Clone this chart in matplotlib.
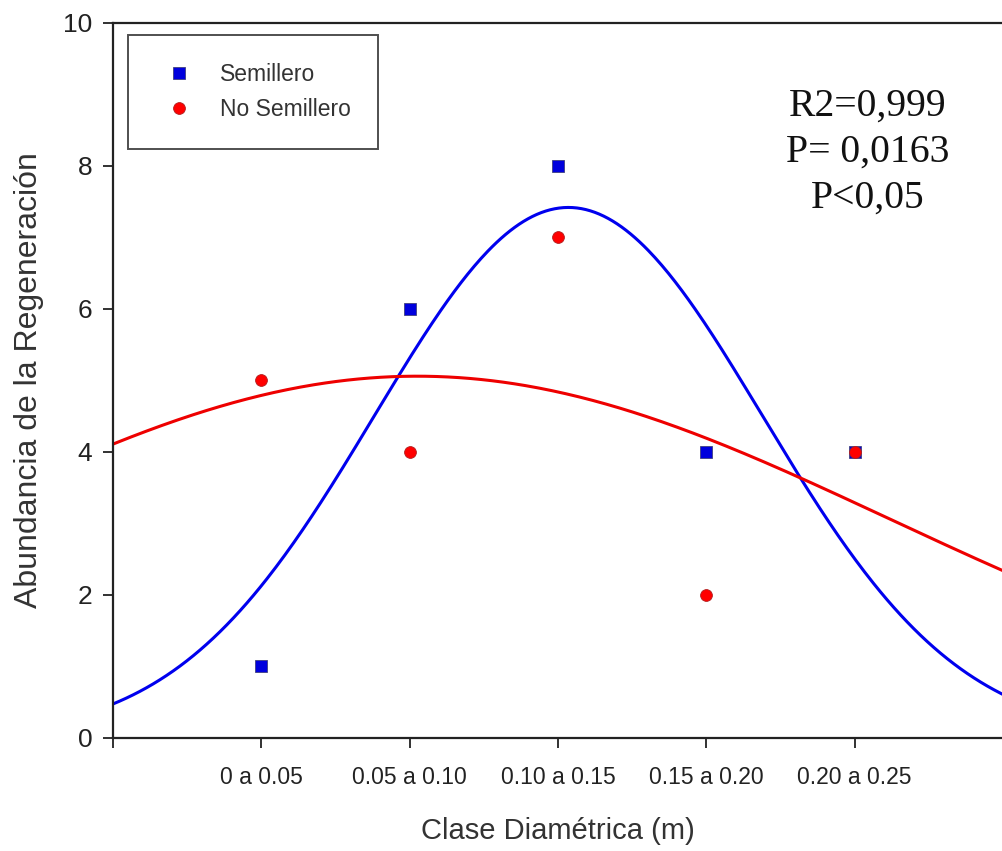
import numpy as np
import matplotlib
matplotlib.use("Agg")
import matplotlib.pyplot as plt

# data
clases = ["0 a 0.05", "0.05 a 0.10", "0.10 a 0.15", "0.15 a 0.20", "0.20 a 0.25"]
semillero = [1, 6, 8, 4, 4]
no_semillero = [5, 4, 7, 2, 4]

# fitted gaussian curves (amplitude, centre, width) in category units
fit_semillero = (7.42, 3.07, 1.31)
fit_no_semillero = (5.06, 2.05, 3.18)

stats_text = "R2=0,999\nP= 0,0163\nP<0,05"


def gauss(x, a, x0, b):
    return a * np.exp(-0.5 * ((x - x0) / b) ** 2)


fig = plt.figure(figsize=(10.03, 8.51), dpi=100)
ax = fig.add_axes([0.1127, 0.1328, 0.8873, 0.8402])

pos = np.arange(1, len(clases) + 1)
xs = np.linspace(0, 6, 400)

ax.plot(xs, gauss(xs, *fit_semillero), color="#0000ee", lw=2.2, zorder=2)
ax.plot(xs, gauss(xs, *fit_no_semillero), color="#ee0000", lw=2.2, zorder=2)

ax.plot(pos, semillero, ls="none", marker="s", ms=8.5, mfc="#0000dd",
        mec="#404080", mew=0.6, label="Semillero", zorder=3)
ax.plot(pos, no_semillero, ls="none", marker="o", ms=8.5, mfc="#ff0000",
        mec="#b02020", mew=0.6, label="No Semillero", zorder=4)

ax.set_xlim(0, 6)
ax.set_ylim(0, 10)
ax.set_xticks([0] + list(pos))
ax.set_xticklabels([""] + clases)
ax.set_yticks([0, 2, 4, 6, 8, 10])

for lab in ax.get_xticklabels():
    lab.set_fontfamily("Liberation Sans")
    lab.set_fontsize(16.5)
    lab.set_color("#222222")
for lab in ax.get_yticklabels():
    lab.set_fontfamily("Liberation Sans")
    lab.set_fontsize(19)
    lab.set_color("#222222")

ax.tick_params(direction="out", length=7, width=1.3, color="#222222")
ax.tick_params(axis="x", pad=13)
ax.tick_params(axis="y", pad=8)

for s in ["left", "bottom", "top"]:
    ax.spines[s].set_linewidth(1.6)
    ax.spines[s].set_color("#222222")
ax.spines["right"].set_visible(False)

ax.set_xlabel("Clase Diamétrica (m)", fontsize=21, family="Liberation Sans",
              color="#333333", labelpad=20)
ax.set_ylabel("Abundancia de la Regeneración", fontsize=23, family="Liberation Sans",
              color="#333333", labelpad=14)

leg = ax.legend(loc="upper left", bbox_to_anchor=(0.017, 0.983), frameon=True,
                fancybox=False, edgecolor="#222222", borderpad=1.2,
                handletextpad=0.8, labelspacing=0.55, borderaxespad=0,
                prop={"family": "Liberation Sans", "size": 16.5})
leg.get_frame().set_linewidth(1.4)
for t in leg.get_texts():
    t.set_color("#333333")

ax.text(0.848, 0.91, stats_text, transform=ax.transAxes, ha="center", va="top",
        fontsize=28.5, family="Liberation Serif", color="#111111", linespacing=1.32)

fig.savefig("out.png", dpi=100)
